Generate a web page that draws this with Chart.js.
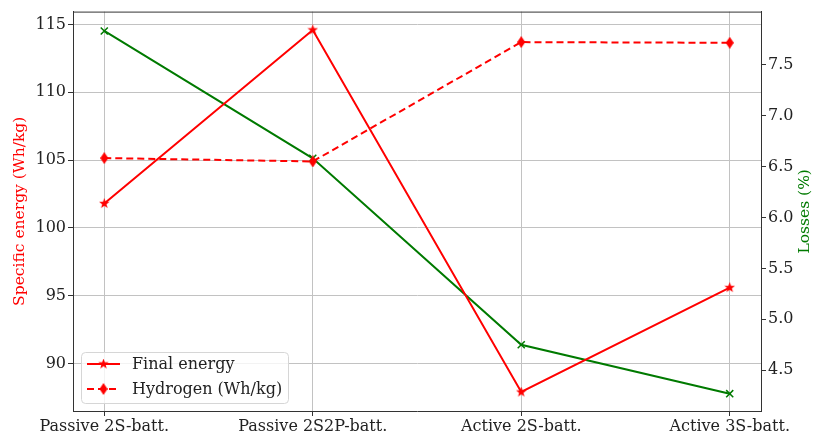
<!DOCTYPE html>
<html>
<head>
<meta charset="utf-8">
<script src="https://cdn.jsdelivr.net/npm/chart.js@4.4.1/dist/chart.umd.min.js"></script>
<style>
  html, body { margin: 0; padding: 0; background: #fff; }
</style>
</head>
<body>
<canvas id="chart" width="814" height="437"></canvas>
<script>
// Chart data
const categories = ['Passive 2S-batt.', 'Passive 2S2P-batt.', 'Active 2S-batt.', 'Active 3S-batt.'];
const finalEnergy = [101.8, 114.6, 87.9, 95.6];
const hydrogen = [105.15, 104.9, 113.7, 113.65];
const losses = [7.83, 6.58, 4.75, 4.27];
const leftTicks = [90, 95, 100, 105, 110, 115];
const rightTicks = [4.5, 5.0, 5.5, 6.0, 6.5, 7.0, 7.5];

const FONT = 'DejaVu Serif';
const RED = '#ff0000';
const GREEN = '#007a00';
const GRID = '#c2c2c2';

// Filled star marker
function makeStar(size, color) {
    const c = document.createElement('canvas');
    c.width = size; c.height = size;
    const g = c.getContext('2d');
    const cx = size / 2, cy = size / 2, R = size / 2, r = R * 0.42;
    g.beginPath();
    for (let i = 0; i < 10; i++) {
        const rad = i % 2 === 0 ? R : r;
        const a = -Math.PI / 2 + i * Math.PI / 5;
        g.lineTo(cx + rad * Math.cos(a), cy + rad * Math.sin(a));
    }
    g.closePath();
    g.fillStyle = color;
    g.fill();
    return c;
}

// Thin diamond marker
function makeDiamond(w, h, color) {
    const c = document.createElement('canvas');
    c.width = w; c.height = h;
    const g = c.getContext('2d');
    g.beginPath();
    g.moveTo(w / 2, 0);
    g.lineTo(w, h / 2);
    g.lineTo(w / 2, h);
    g.lineTo(0, h / 2);
    g.closePath();
    g.fillStyle = color;
    g.fill();
    return c;
}

const starImg = makeStar(11, RED);
const diamondImg = makeDiamond(8, 12, RED);

const toXY = arr => arr.map((v, i) => ({ x: i, y: v }));

// Top spine + right title + legend
const extras = {
    id: 'extras',
    afterDraw(chart) {
        const ctx = chart.ctx;
        const a = chart.chartArea;
        ctx.save();
        ctx.strokeStyle = '#333';
        ctx.lineWidth = 1;
        ctx.beginPath();
        ctx.moveTo(a.left, a.top + 0.5);
        ctx.lineTo(a.right, a.top + 0.5);
        ctx.stroke();

        // right axis title
        ctx.fillStyle = GREEN;
        ctx.font = '15.5px "' + FONT + '"';
        ctx.textAlign = 'center';
        ctx.textBaseline = 'middle';
        ctx.translate(805, (a.top + a.bottom) / 2);
        ctx.rotate(-Math.PI / 2);
        ctx.fillText('Losses (%)', 0, 0);
        ctx.restore();

        // legend
        ctx.save();
        const bx = 81, by = 352, bw = 207, bh = 51, rr = 4;
        ctx.beginPath();
        ctx.roundRect(bx + 0.5, by + 0.5, bw, bh, rr);
        ctx.fillStyle = 'rgba(255,255,255,0.8)';
        ctx.fill();
        ctx.strokeStyle = '#d6d6d6';
        ctx.lineWidth = 1;
        ctx.stroke();

        const rows = [
            { label: 'Final energy', dash: [], img: starImg, y: 364 },
            { label: 'Hydrogen (Wh/kg)', dash: [7, 4], img: diamondImg, y: 389 }
        ];
        rows.forEach(row => {
            ctx.strokeStyle = RED;
            ctx.lineWidth = 2;
            ctx.setLineDash(row.dash);
            ctx.beginPath();
            ctx.moveTo(87, row.y);
            ctx.lineTo(120, row.y);
            ctx.stroke();
            ctx.setLineDash([]);
            ctx.drawImage(row.img, 103.5 - row.img.width / 2, row.y - row.img.height / 2);
            ctx.fillStyle = '#222';
            ctx.font = '16px "' + FONT + '"';
            ctx.textAlign = 'left';
            ctx.textBaseline = 'middle';
            ctx.fillText(row.label, 132, row.y + 1);
        });
        ctx.restore();
    }
};

new Chart(document.getElementById('chart'), {
    type: 'line',
    data: {
        datasets: [
            {
                label: 'Final energy',
                data: toXY(finalEnergy),
                yAxisID: 'y',
                borderColor: RED,
                backgroundColor: RED,
                borderWidth: 2,
                pointStyle: starImg,
                pointRadius: 5,
                tension: 0
            },
            {
                label: 'Hydrogen (Wh/kg)',
                data: toXY(hydrogen),
                yAxisID: 'y',
                borderColor: RED,
                backgroundColor: RED,
                borderWidth: 2,
                borderDash: [7, 4],
                pointStyle: diamondImg,
                pointRadius: 5,
                tension: 0
            },
            {
                label: 'Losses',
                data: toXY(losses),
                yAxisID: 'y1',
                borderColor: GREEN,
                backgroundColor: GREEN,
                borderWidth: 2,
                pointStyle: 'crossRot',
                pointRadius: 5,
                pointBorderWidth: 1.5,
                tension: 0
            }
        ]
    },
    options: {
        responsive: false,
        animation: false,
        devicePixelRatio: 1,
        layout: { padding: { top: 10, left: 0, right: 0, bottom: 0 } },
        plugins: {
            legend: { display: false },
            tooltip: { enabled: false }
        },
        scales: {
            x: {
                type: 'linear',
                min: -0.15,
                max: 3.15,
                afterBuildTicks: s => { s.ticks = categories.map((c, i) => ({ value: i })); },
                afterFit: s => { s.height = 26; },
                ticks: {
                    callback: v => categories[v],
                    color: '#222',
                    font: { family: FONT, size: 16 },
                    padding: 1,
                    maxRotation: 0,
                    autoSkip: false
                },
                grid: { color: GRID, lineWidth: 1, tickLength: 5, tickColor: '#333' },
                border: { display: true, color: '#333', width: 1 }
            },
            y: {
                position: 'left',
                min: 86.5,
                max: 115.95,
                afterBuildTicks: s => { s.ticks = leftTicks.map(v => ({ value: v })); },
                afterFit: s => { s.width = 73; },
                ticks: {
                    color: '#222',
                    font: { family: FONT, size: 16 },
                    padding: 2
                },
                grid: { color: GRID, lineWidth: 1, tickLength: 5, tickColor: '#333' },
                border: { display: true, color: '#333', width: 1 },
                title: {
                    display: true,
                    text: 'Specific energy (Wh/kg)',
                    color: RED,
                    font: { family: FONT, size: 15.5 },
                    padding: { top: 11, bottom: 0 }
                }
            },
            y1: {
                position: 'right',
                min: 4.1,
                max: 8.02,
                afterBuildTicks: s => { s.ticks = rightTicks.map(v => ({ value: v })); },
                afterFit: s => { s.width = 53; },
                ticks: {
                    callback: v => v.toFixed(1),
                    color: '#222',
                    font: { family: FONT, size: 16 },
                    padding: 2
                },
                grid: { drawOnChartArea: false, tickLength: 5, tickColor: '#333' },
                border: { display: true, color: '#333', width: 1 }
            }
        }
    },
    plugins: [extras]
});
</script>
</body>
</html>
